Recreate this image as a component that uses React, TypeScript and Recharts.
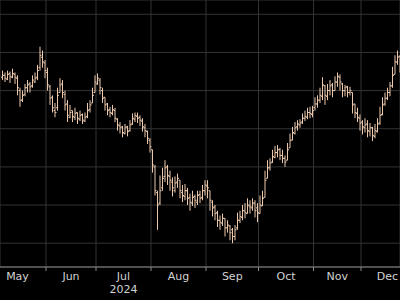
import { ComposedChart, Bar, XAxis, YAxis, CartesianGrid } from 'recharts';

const BAR_COLOR = '#ecc8ad';
const GRID_COLOR = '#333333';

// daily OHLC, trading-day index 0..159 (late Apr – mid Dec 2024)
const opens = [
  334, 336, 332, 338, 334, 337, 333, 320, 310, 316, 323, 327, 325, 329, 334, 344, 355, 349,
  339, 324, 313, 299, 302, 318, 327, 316, 306, 292, 299, 292, 297, 290, 295, 288, 293, 300, 307, 318,
  327, 331, 320, 313, 306, 300, 296, 299, 290, 283, 282, 275, 282, 278, 285, 290, 293, 292, 288, 281, 277, 268,
  258, 240, 213, 202, 218, 230, 240, 230, 224, 215, 224, 226, 213, 209, 215, 208, 202, 209, 203, 211, 208, 215,
  220, 215, 203, 198, 192, 184, 181, 186, 176, 178, 174, 167, 176, 184, 187, 194, 191, 199, 197, 202, 197,
  191, 199, 208, 228, 239, 245, 250, 255, 258, 252, 249, 247, 260, 268, 275, 282, 284, 287, 291, 292, 297, 295,
  302, 306, 310, 314, 325, 314, 320, 326, 320, 329, 334, 327, 320, 324, 318, 318, 306, 296, 291,
  287, 281, 285, 277, 281, 272, 277, 286, 295, 306, 312, 318, 325, 337, 350, 356,
];
const highs = [
  341, 339, 341, 340, 343, 339, 336, 323, 320, 327, 331, 329, 336, 339, 347, 366, 362, 352,
  344, 326, 315, 307, 323, 333, 331, 320, 310, 305, 299, 302, 297, 299, 296, 297, 307, 310, 323, 336,
  338, 333, 323, 313, 307, 303, 305, 302, 291, 287, 283, 285, 283, 289, 296, 297, 297, 294, 291, 285, 278, 270,
  258, 242, 215, 231, 239, 247, 242, 236, 229, 230, 233, 226, 221, 222, 218, 212, 215, 211, 215, 215, 221, 226,
  226, 215, 205, 200, 194, 189, 191, 186, 184, 179, 176, 179, 192, 194, 200, 202, 207, 205, 207, 205, 202,
  210, 215, 236, 247, 249, 258, 262, 263, 260, 258, 252, 265, 275, 282, 287, 289, 290, 296, 299, 302, 303, 304,
  313, 315, 323, 334, 326, 327, 331, 328, 335, 339, 337, 328, 326, 325, 324, 318, 306, 302, 295,
  289, 291, 289, 286, 282, 285, 291, 303, 313, 318, 323, 329, 345, 357, 362, 357,
];
const lows = [
  331, 329, 331, 328, 333, 327, 315, 303, 308, 314, 318, 318, 323, 328, 331, 341, 344, 333,
  320, 305, 297, 292, 299, 318, 312, 299, 287, 291, 287, 289, 285, 288, 285, 287, 291, 297, 307, 318,
  326, 316, 307, 299, 294, 292, 294, 287, 278, 275, 271, 274, 272, 277, 284, 287, 286, 283, 277, 271, 264, 255,
  234, 210, 174, 200, 215, 224, 221, 215, 209, 213, 218, 207, 203, 205, 200, 194, 199, 197, 200, 202, 205, 210,
  207, 194, 188, 184, 177, 174, 178, 167, 171, 163, 160, 163, 174, 181, 184, 186, 191, 191, 194, 187, 182,
  191, 199, 208, 228, 236, 244, 249, 250, 247, 244, 240, 247, 260, 268, 274, 278, 281, 285, 288, 290, 291, 292,
  299, 302, 307, 310, 305, 310, 315, 313, 320, 324, 320, 313, 314, 313, 315, 296, 291, 287, 278,
  274, 276, 271, 272, 267, 270, 276, 284, 294, 304, 310, 314, 323, 337, 347, 339,
];
const closes = [
  336, 333, 337, 335, 338, 334, 323, 310, 315, 323, 326, 324, 331, 333, 341, 357, 350, 341,
  326, 312, 302, 297, 315, 326, 318, 305, 294, 297, 293, 296, 291, 294, 289, 292, 299, 305, 315, 329,
  333, 323, 312, 305, 299, 297, 300, 291, 284, 281, 276, 281, 277, 284, 291, 294, 291, 289, 282, 278, 270, 261,
  242, 215, 200, 215, 228, 239, 231, 226, 218, 223, 228, 215, 210, 215, 207, 203, 208, 205, 210, 207, 215, 221,
  218, 205, 197, 191, 184, 182, 186, 176, 179, 171, 167, 174, 184, 188, 194, 192, 200, 198, 202, 194, 192,
  200, 207, 226, 239, 244, 251, 255, 258, 252, 249, 245, 258, 268, 276, 281, 285, 286, 291, 293, 297, 296, 299,
  306, 310, 315, 326, 315, 320, 325, 320, 329, 335, 329, 320, 323, 318, 320, 305, 297, 292, 286,
  282, 284, 278, 281, 273, 278, 285, 294, 305, 312, 318, 325, 336, 350, 355, 347,
];

// first trading day of each month sits just after these boundaries (index units)
const monthEdges = [-5.3, 17.5, 37.5, 59.5, 81.5, 102.5, 124.5, 143.5, 164.7];
const monthNames = ['May', 'Jun', 'Jul', 'Aug', 'Sep', 'Oct', 'Nov', 'Dec'];
const priceTicks = [160, 200, 240, 280, 320, 360, 400];

const data = highs.map((h, i) => ({
  i,
  open: opens[i],
  high: h,
  low: lows[i],
  close: closes[i],
  range: [lows[i], h],
}));

const boundaryTicks = monthEdges.slice(1, -1);
const labelTicks = monthNames.map((_, k) => (monthEdges[k] + monthEdges[k + 1]) / 2);

function OhlcShape(props: any) {
  const { x, y, width, height, payload } = props;
  const cx = x + width / 2;
  const span = payload.high - payload.low;
  const toY = (v: number) => (span === 0 ? y : y + ((payload.high - v) / span) * height);
  const oy = toY(payload.open);
  const cy = toY(payload.close);
  return (
    <g stroke={BAR_COLOR} strokeWidth={1}>
      <line x1={cx} x2={cx} y1={y} y2={y + Math.max(height, 1)} />
      <line x1={cx - 1.5} x2={cx} y1={oy} y2={oy} />
      <line x1={cx} x2={cx + 1.5} y1={cy} y2={cy} />
    </g>
  );
}

function MonthTick(props: any) {
  const { x, y, payload, index } = props;
  const name = monthNames[index];
  return (
    <g>
      <text x={x} y={y} dy={4} textAnchor="middle" fill="#d2d2d2" fontSize={11} fontFamily="DejaVu Sans">
        {name}
      </text>
      {name === 'Jul' && (
        <text x={x} y={y} dy={17} textAnchor="middle" fill="#d2d2d2" fontSize={11} fontFamily="DejaVu Sans">
          2024
        </text>
      )}
    </g>
  );
}

const NoLabel = () => <g />;

export default function App() {
  return (
    <div style={{ position: 'fixed', top: 0, left: 0, width: 400, height: 300, background: '#000' }}>
      <ComposedChart width={400} height={300} data={data} margin={{ top: 0, right: 0, bottom: 0, left: 0 }}>
        <CartesianGrid xAxisId="g" stroke={GRID_COLOR} strokeWidth={1} />
        <XAxis
          xAxisId="g"
          type="number"
          dataKey="i"
          domain={[-0.9, 159.1]}
          allowDataOverflow
          ticks={boundaryTicks}
          tick={<NoLabel />}
          interval={0}
          tickSize={4}
          tickLine={{ stroke: '#8a8a8a' }}
          axisLine={{ stroke: '#8a8a8a' }}
          height={1}
        />
        <XAxis
          xAxisId="m"
          type="number"
          dataKey="i"
          domain={[-0.9, 159.1]}
          allowDataOverflow
          ticks={labelTicks}
          tick={<MonthTick />}
          tickLine={false}
          axisLine={false}
          interval={0}
          height={32}
        />
        <YAxis hide type="number" domain={[135, 415]} ticks={priceTicks} allowDataOverflow />
        <Bar xAxisId="g" dataKey="range" barSize={1} shape={<OhlcShape />} isAnimationActive={false} />
      </ComposedChart>
    </div>
  );
}
